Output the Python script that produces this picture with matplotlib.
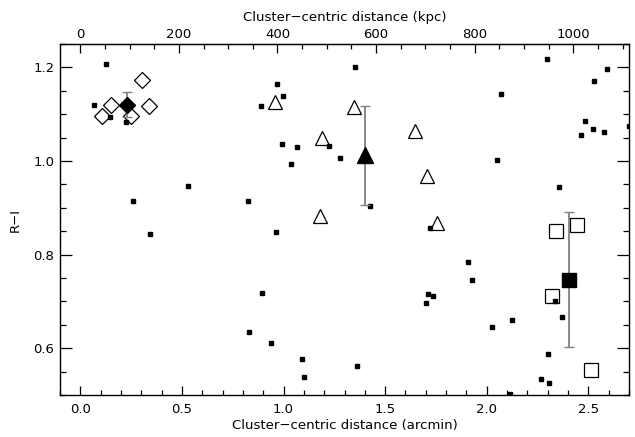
import numpy as np
import matplotlib.pyplot as plt
from matplotlib.ticker import MultipleLocator, FixedLocator

# small black squares: field galaxies
field_x = [0.125, 0.069, 0.148, 0.227, 1.353, 0.968, 0.998, 0.890, 0.993, 1.067,
           1.225, 1.279, 1.036, 2.069, 2.050, 2.296, 2.592, 2.527, 2.483, 2.523,
           2.575, 2.463, 2.700, 0.528, 0.258, 0.825, 0.342, 0.963, 1.427, 1.723,
           1.906, 2.355, 1.929, 1.713, 1.733, 1.699, 2.335, 2.368, 2.123, 2.024,
           1.363, 2.300, 2.266, 2.306, 2.112, 0.894, 0.829, 0.939, 1.092, 1.102]
field_y = [1.207, 1.119, 1.094, 1.083, 1.201, 1.164, 1.139, 1.117, 1.036, 1.030,
           1.032, 1.006, 0.993, 1.144, 1.002, 1.218, 1.196, 1.171, 1.085, 1.068,
           1.062, 1.055, 1.075, 0.946, 0.914, 0.914, 0.844, 0.848, 0.904, 0.857,
           0.784, 0.944, 0.745, 0.716, 0.711, 0.696, 0.701, 0.666, 0.660, 0.645,
           0.562, 0.587, 0.534, 0.525, 0.503, 0.717, 0.634, 0.612, 0.576, 0.538]

# inner bin (diamonds)
dia_x = [0.304, 0.149, 0.108, 0.248, 0.338]
dia_y = [1.173, 1.119, 1.097, 1.096, 1.117]
dia_mean = (0.230, 1.120, 0.027)

# middle bin (triangles)
tri_x = [0.960, 1.345, 1.187, 1.648, 1.707, 1.181, 1.756]
tri_y = [1.127, 1.115, 1.049, 1.065, 0.968, 0.882, 0.868]
tri_mean = (1.399, 1.012, 0.105)

# outer bin (squares)
sq_x = [2.340, 2.443, 2.322, 2.514]
sq_y = [0.851, 0.863, 0.712, 0.553]
sq_mean = (2.403, 0.746, 0.144)

kpc_ticks = [0, 200, 400, 600, 800, 1000]
KPC_PER_ARCMIN = 412.3

fig = plt.figure(figsize=(6.35, 4.37), dpi=100)
ax = fig.add_axes([0.0945, 0.0961, 0.8961, 0.8032])

ax.plot(field_x, field_y, 's', color='black', markersize=2.9, linestyle='none', zorder=3)

ax.plot(dia_x, dia_y, 'D', mfc='none', mec='black', mew=0.9, markersize=8.5, linestyle='none')
ax.plot(tri_x, tri_y, '^', mfc='none', mec='black', mew=0.9, markersize=9.5, linestyle='none')
ax.plot(sq_x, sq_y, 's', mfc='none', mec='black', mew=0.9, markersize=9.6, linestyle='none')

for (mx, my, me), mk, ms in [(dia_mean, 'D', 8.5), (tri_mean, '^', 11.5), (sq_mean, 's', 10.0)]:
    ax.errorbar(mx, my, yerr=me, fmt='none', ecolor='#808080', elinewidth=1.3,
                capsize=3.5, capthick=1.0, zorder=4)
    ax.plot(mx, my, mk, color='black', markersize=ms, zorder=5)

ax.set_xlim(-0.1, 2.7)
ax.set_ylim(0.5, 1.25)

ax.xaxis.set_major_locator(MultipleLocator(0.5))
ax.xaxis.set_minor_locator(MultipleLocator(0.1))
ax.yaxis.set_major_locator(MultipleLocator(0.2))
ax.yaxis.set_minor_locator(MultipleLocator(0.05))
ax.xaxis.set_major_formatter(plt.FuncFormatter(lambda v, p: f"{v:.1f}"))
ax.yaxis.set_major_formatter(plt.FuncFormatter(lambda v, p: f"{v:.1f}"))

ax.tick_params(which='both', direction='in', right=True, top=False, labelsize=9.5,
               color='black', width=0.9)
ax.tick_params(axis='y', which='major', length=8.5, pad=4)
ax.tick_params(axis='y', which='minor', length=4.2)
ax.tick_params(axis='x', which='major', length=6.5, pad=6)
ax.tick_params(axis='x', which='minor', length=3.7)

for s in ax.spines.values():
    s.set_linewidth(1.0)

ax.set_xlabel("Cluster\u2212centric distance (arcmin)", fontsize=9.5, labelpad=2)
ax.set_ylabel("R\u2212I", fontsize=9.5, labelpad=8)

top = ax.secondary_xaxis('top', functions=(lambda a: a * KPC_PER_ARCMIN,
                                           lambda k: k / KPC_PER_ARCMIN))
top.xaxis.set_major_locator(FixedLocator(kpc_ticks))
top.xaxis.set_minor_locator(MultipleLocator(50))
top.tick_params(which='both', direction='in', labelsize=9.5, width=0.9, pad=2)
top.tick_params(which='major', length=6.5)
top.tick_params(which='minor', length=3.7)
top.set_xlabel("Cluster\u2212centric distance (kpc)", fontsize=9.5, labelpad=5)

fig.savefig("out.png", dpi=100)
